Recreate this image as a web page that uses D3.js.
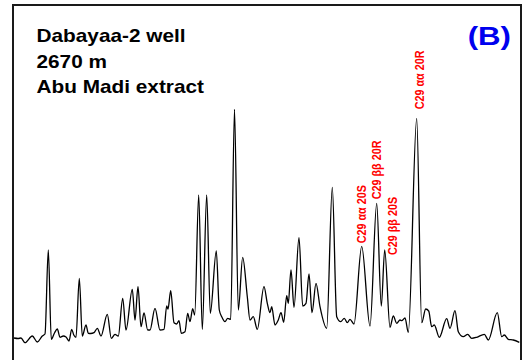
<!DOCTYPE html>
<html>
<head>
<meta charset="utf-8">
<script src="https://cdn.jsdelivr.net/npm/d3@7/dist/d3.min.js"></script>
<style>
  html, body { margin: 0; padding: 0; background: #fff; }
  svg { display: block; }
</style>
</head>
<body>
<svg id="chart" width="527" height="360"></svg>
<script>
// m/z 217 sterane trace (retention in scan units, abundance in counts)
const scan = [
  14, 18, 21, 25, 32.3, 37.3, 42.3, 45, 48.3, 51.3, 54.5, 57.3, 60, 63.3, 66, 69, 71.7, 73.8, 76, 79.3,
  82.3, 86, 88.3, 90.7, 94, 97.3, 101, 107.3, 111.3, 115, 118.3, 122.7, 126, 132.3, 135, 138, 141, 144,
  147.7, 150, 155, 160, 164, 166.7, 168, 170.7, 174, 176.7, 179, 181.3, 185, 187.7, 190, 192.7, 194.7,
  198.7, 202.3, 206.7, 210.3, 216.3, 219.3, 221.7, 225, 227.7, 230.7, 234.5, 238.3, 242.7, 247.3, 250,
  253.3, 257.3, 264, 267.3, 270, 271.7, 275, 278.3, 281, 283.7, 286.7, 288.3, 291, 294, 299, 302.7, 306,
  309, 312, 316, 320, 326.7, 332.3, 336.7, 340.7, 344.3, 347.3, 350, 354, 361.7, 370, 376.7, 381.3,
  384.7, 390, 393.3, 396.7, 400, 401.7, 405, 408.3, 416.7, 421.7, 425.7, 428.7, 431.7, 434.3, 439.3,
  446.7, 450, 455, 458.3, 463.3, 467.7, 471.7, 476.7, 484.3, 488.3, 497.3, 501.7, 504.3, 508.3, 513.3,
  519.3
];
const abundance = [
  7, 6.5, 7, 2.3, 9, 3, 9, 11, 95, 5.7, 12, 16, 7.7, 9, 8, 4, 15.7, 10, 7.7, 66.7,
  9, 20, 11.7, 11.5, 12.3, 16.7, 9, 30.7, 6.7, 10.7, 9, 46.7, 15, 55.7, 25, 58.3, 18.3, 32,
  15, 15, 36.7, 15, 15.7, 39, 36, 54.3, 22.3, 21, 24.3, 11.7, 13.3, 31.7, 23.3, 36.3, 30,
  150, 15.7, 150, 31.7, 94, 35, 28.3, 23.3, 26.7, 25.7, 235.7, 35, 87.7, 48.3, 25,
  28.3, 15.7, 58.3, 41.7, 32.3, 38.3, 20, 25, 32.3, 22.7, 49.3, 41.7, 75, 37.7, 107.3, 39, 41.7,
  71, 32.3, 61.7, 38.3, 16.7, 157.7, 28.3, 23.3, 26.7, 22.3, 25.7, 21, 98.7, 19, 141.7, 39,
  95, 17.7, 29, 21.7, 25, 24.3, 27, 12.7, 226.7, 22.3, 36, 34, 18.3, 20, 7.7,
  26.3, 16.7, 34.3, 13.3, 8.3, 10.7, 6.7, 7.7, 10.7, 5, 32.3, 8.3, 10, 5.7, 5,
  2.7
];

// header lines and panel letter
const headerLines = ["Dabayaa-2 well", "2670 m", "Abu Madi extract"];
const panelLetter = "(B)";

// identified C29 sterane peaks
const peakNames = ["C29 \u03b1\u03b1 20S", "C29 \u03b2\u03b2 20R", "C29 \u03b2\u03b2 20S", "C29 \u03b1\u03b1 20R"];
const peakScans = [361.7, 376.7, 384.7, 416.7];

const svg = d3.select("#chart");

const x = d3.scaleLinear().domain([14, 520]).range([14, 520]);
const y = d3.scaleLinear().domain([0, 240]).range([345, 105]);

// panel frame (runs past the lower edge)
svg.append("rect")
  .attr("x", 13).attr("y", 5)
  .attr("width", 508).attr("height", 420)
  .attr("fill", "none")
  .attr("stroke", "#1a1a1a")
  .attr("stroke-width", 2);

const pts = scan.map((s, i) => [s, abundance[i]]);
const line = d3.line()
  .x(d => x(d[0]))
  .y(d => y(d[1]))
  .curve(d3.curveMonotoneX);

svg.append("path")
  .datum(pts)
  .attr("d", line)
  .attr("fill", "none")
  .attr("stroke", "#000")
  .attr("stroke-width", 1.3)
  .attr("stroke-linejoin", "round");

const FONT = "Arial, 'Liberation Sans', sans-serif";
const SX = 1.13;

// header block
const headerBase = [41.5, 68, 93];
svg.selectAll("text.head")
  .data(headerLines)
  .join("text")
  .attr("class", "head")
  .attr("transform", (d, i) => `translate(36.5,${headerBase[i]}) scale(${SX},1)`)
  .attr("font-family", FONT)
  .attr("font-weight", "bold")
  .attr("font-size", 18.4)
  .attr("fill", "#000")
  .text(d => d);

svg.append("text")
  .attr("transform", `translate(511,44.5) scale(1.2,1)`)
  .attr("text-anchor", "end")
  .attr("font-family", FONT)
  .attr("font-weight", "bold")
  .attr("font-size", 26)
  .attr("fill", "#0000ee")
  .text(panelLetter);

// peak annotations, rotated above each apex
const labelShift = [0, 0, 8, 3];
const labelGap = [3, 4, -5, 9];
peakNames.forEach((name, i) => {
  const k = scan.indexOf(peakScans[i]);
  const px = x(peakScans[i]) + labelShift[i];
  const py = y(abundance[k]) - labelGap[i];
  svg.append("text")
    .attr("transform", `translate(${px},${py}) scale(1.18,1) rotate(-90)`)
    .attr("dy", "0.36em")
    .attr("font-family", FONT)
    .attr("font-weight", "bold")
    .attr("font-size", 10.8)
    .attr("fill", "#ff0000")
    .text(name);
});
</script>
</body>
</html>
